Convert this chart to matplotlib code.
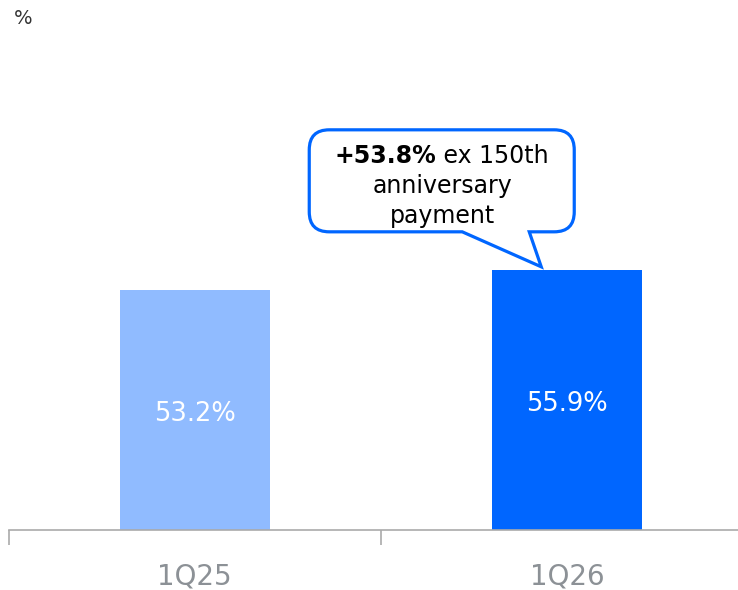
import matplotlib
matplotlib.use("Agg")
import matplotlib.pyplot as plt
from matplotlib.path import Path
from matplotlib.patches import PathPatch

categories = ["1Q25", "1Q26"]
values = [53.2, 55.9]
value_labels = ["53.2%", "55.9%"]
bar_colors = ["#90BBFF", "#0066FF"]
callout_bold = "+53.8%"
callout_rest = " ex 150th"
callout_lines = ["anniversary", "payment"]
unit_label = "%"

plt.rcParams['font.family'] = ['DejaVu Sans']

fig = plt.figure(figsize=(7.38, 5.90), dpi=100)
# axes spans from x=8.5px to 753.5px, bottom at 530px from top, top at 0
ax = fig.add_axes([8.5/738, 60/590, 745/738, 530/590])
x = list(range(len(categories)))
ax.bar(x, values, width=0.403, color=bar_colors, zorder=2)
ax.set_xlim(-0.5, 1.5)
ax.set_ylim(20.8, 92.3)

for s in ["top", "right", "left"]:
    ax.spines[s].set_visible(False)
ax.spines["bottom"].set_color("#aaaaaa")
ax.spines["bottom"].set_linewidth(1.2)
ax.set_yticks([])
ax.set_xticks([-0.5, 0.5, 1.5])
ax.set_xticklabels([])
ax.tick_params(axis='x', length=11, color="#aaaaaa", width=1.2)
for xi, cat in zip(x, categories):
    ax.annotate(cat, xy=(xi, 0), xycoords=('data', 'axes fraction'),
                xytext=(0, -46), textcoords='offset pixels',
                ha='center', va='center', fontsize=20, color="#8c9196")

ymin = ax.get_ylim()[0]
for xi, v, lab in zip(x, values, value_labels):
    ax.text(xi, (v + ymin) / 2 - 0.5, lab, ha='center', va='center',
            fontsize=18.5, color='white', zorder=3)

fig.text(14/738, 1 - 18/590, unit_label, ha='left', va='center',
         fontsize=14, color="#333333")

# callout anchored to top of second bar
fig.canvas.draw()
tx, ty = ax.transData.transform((x[1], values[1]))
tx -= 26
ty += 3
L, R = tx - 232, tx + 33
B, T = ty + 35, ty + 137
r = 20
verts = [
    (L + r, B), (tx - 79, B), (tx, ty), (tx - 12, B), (R - r, B),
    (R, B), (R, B + r),
    (R, T - r),
    (R, T), (R - r, T),
    (L + r, T),
    (L, T), (L, T - r),
    (L, B + r),
    (L, B), (L + r, B),
    (L + r, B),
]
codes = [Path.MOVETO, Path.LINETO, Path.LINETO, Path.LINETO, Path.LINETO,
         Path.CURVE3, Path.CURVE3,
         Path.LINETO,
         Path.CURVE3, Path.CURVE3,
         Path.LINETO,
         Path.CURVE3, Path.CURVE3,
         Path.LINETO,
         Path.CURVE3, Path.CURVE3,
         Path.CLOSEPOLY]
patch = PathPatch(Path(verts, codes), facecolor='white', edgecolor="#0066FF",
                  linewidth=2.3, joinstyle='miter', transform=None, zorder=5)
fig.add_artist(patch)

cx = tx - 99
fig.text((cx - 6) / 738, (ty + 104) / 590, callout_bold, ha='right', va='baseline',
         fontsize=17, fontweight='bold', color='black', zorder=6)
fig.text((cx - 6) / 738, (ty + 104) / 590, callout_rest, ha='left', va='baseline',
         fontsize=17, color='black', zorder=6)
for i, line in enumerate(callout_lines):
    fig.text(cx / 738, (ty + 74 - 30 * i) / 590, line, ha='center', va='baseline',
             fontsize=17, color='black', zorder=6)

fig.savefig("out.png", dpi=100)
